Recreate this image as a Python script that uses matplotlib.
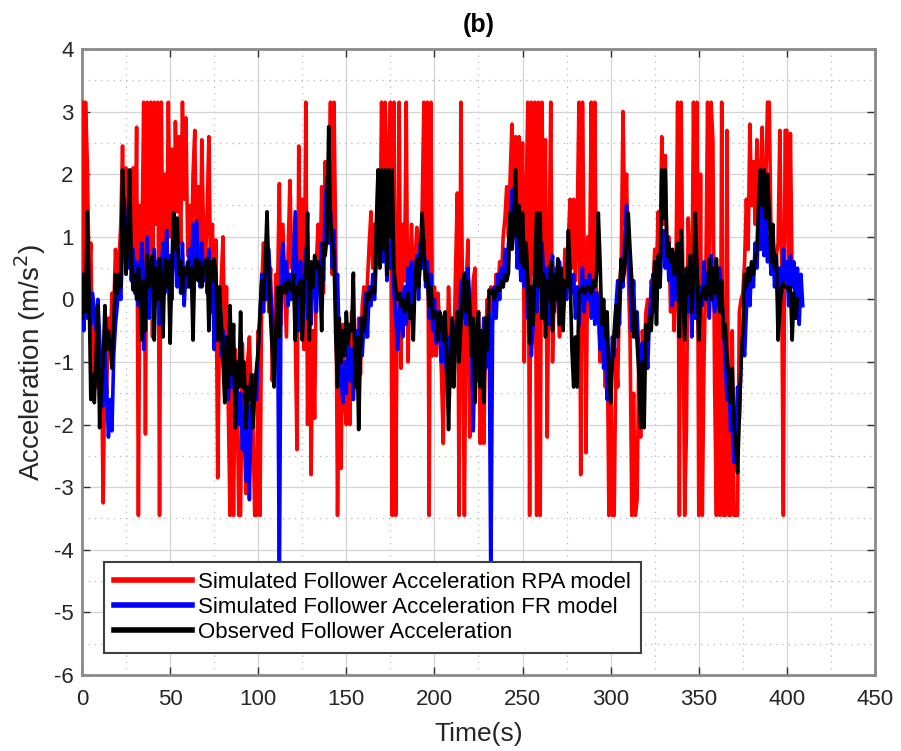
import numpy as np
import matplotlib
matplotlib.use("Agg")
import matplotlib.pyplot as plt
from matplotlib.ticker import MultipleLocator

plt.rcParams["font.family"] = ["Liberation Sans", "DejaVu Sans"]
plt.rcParams["axes.unicode_minus"] = False

# ---- data (1 sample per second) ----
red_rpa = [
    3.15, 0.2, 3.15, 2.2, 0.4, 0.9, -1.2, -0.3, -1.4, -0.6,
    -1.6, -0.8, -3.25, -1.0, -1.5, -0.3, -0.8, 0.1, -0.2, 0.8,
    0.3, 0.6, 1.2, 2.45, 0.8, 2.1, 1.0, 1.8, 0.6, 2.1,
    0.3, 2.75, -3.45, 1.5, 0.8, 3.15, -2.15, 3.15, 0.5, 3.15,
    -0.6, 3.15, 1.2, 3.15, -3.45, 3.15, 0.5, 2.0, 0.8, 3.15,
    1.0, 2.4, 0.6, 2.84, 1.4, 2.6, 0.9, 3.15, 1.6, 2.9,
    0.7, 1.5, 0.4, 2.0, 2.7, 0.6, 1.8, 0.3, 2.55, 1.0,
    0.5, 1.4, 2.6, 0.2, 1.2, -0.4, 0.95, -2.85, -0.5, 0.3,
    1.0, -0.8, 0.2, -1.7, -3.45, -1.2, -3.45, -0.8, -1.5, -3.45,
    -3.45, -0.7, -1.8, -3.1, -1.0, -0.6, -1.5, -2.0, -3.45, -3.45,
    -0.5, -3.45, 0.2, 0.9, 0.1, 0.6, -0.2, 0.5, -1.3, -0.6,
    0.4, 0.2, 1.85, -0.4, 1.2, 0.3, -0.6, 0.8, 1.9, 0.5,
    1.0, -0.5, -2.4, 2.45, 0.2, 1.6, -0.8, 3.15, -2.0, 0.4,
    -2.8, -0.5, -1.9, 0.6, 1.2, 0.3, 1.8, 0.1, 2.2, 0.9,
    1.5, 3.15, 0.4, 3.15, 0.8, -3.45, -1.0, -2.7, -0.4, -1.6,
    -2.0, -0.7, -2.0, -0.2, -1.4, -0.5, -1.0, -0.3, -1.2, -0.1,
    0.2, -0.6, 0.3, 0.9, 1.4, 0.5, 1.2, 0.7, 2.0, 0.6,
    3.15, 1.0, 3.15, 2.2, 0.5, 3.15, -3.45, 3.15, -3.45, 0.5,
    3.15, -1.1, 1.2, 0.3, 3.15, -1.0, 0.4, 1.2, 0.1, 0.6,
    1.15, 0.2, 0.8, 1.4, 3.15, 0.3, 3.15, -3.45, 3.15, -0.9,
    0.2, -0.9, 0.1, -0.5, -1.2, -2.3, -0.4, -1.0, 0.2, -0.6,
    -0.3, -1.0, 0.5, 1.7, -3.45, 3.15, -0.3, -3.45, 0.2, 0.95,
    -2.2, -0.5, 0.3, 0.5, -1.3, -0.2, -2.3, -1.0, -2.3, -0.6,
    0.0, -0.5, 0.2, 0.0, -0.3, 0.4, 0.1, 0.6, 0.3, 1.0,
    1.3, 1.8, 1.0, 2.0, 2.8, 1.5, 2.6, 0.8, 2.6, 0.9,
    2.5, -1.0, 1.6, 3.15, -3.45, 3.15, 0.4, 3.15, -3.45, 3.15,
    -3.45, 3.15, 0.5, 2.55, -2.2, 0.6, 3.15, -1.0, 0.2, 0.5,
    0.0, -0.6, 0.3, -0.3, 0.8, 0.2, 1.0, 1.6, 0.5, 1.6,
    0.3, 1.2, 3.15, -2.8, 3.15, 0.6, -2.45, 1.0, 0.4, 3.15,
    0.2, 3.15, -0.3, 0.1, -1.0, -0.2, -0.6, -1.4, -0.5, -3.45,
    -1.0, -3.45, -3.45, -0.8, -1.4, 0.2, 0.6, 3.0, 1.2, 2.0,
    0.4, -0.6, -3.45, -1.5, -3.45, -3.2, -0.8, -2.2, -0.5, -1.0,
    -0.2, 0.0, -0.5, 0.3, 0.1, 0.8, 0.5, 1.4, 0.6, 2.6,
    1.2, 2.3, 0.6, 1.0, -0.2, 0.5, -0.5, 0.3, 3.15, -3.45,
    3.15, 0.2, -3.45, -2.1, 1.3, 0.4, -0.3, 3.15, 0.5, 3.15,
    -3.45, 2.0, -3.45, -0.9, 0.4, 3.15, 0.2, 3.15, 2.55, -1.4,
    -3.45, 0.5, -3.45, 3.15, -3.45, -3.45, 2.7, -3.45, -3.45, -0.5,
    -3.45, -3.45, -3.45, -0.2, 0.0, 0.1, 0.6, 1.6, 0.8, 2.8,
    1.5, 2.2, 1.2, 2.55, 0.8, 2.0, 2.75, 0.9, 1.8, 3.15,
    3.15, 1.0, 0.6, 0.5, 0.7, 0.9, 2.7, 0.5, -3.45, 2.7,
    2.7, 0.6, 2.65, 0.3,
]

blue_fr = [
    0.4, -0.5, 0.3, -0.3, 0.2, -0.4, 0.1, -0.2, -0.5, 0.0,
    -0.6, -1.2, -1.7, -0.8, -1.4, -2.2, -1.6, -2.1, -0.9, -0.4,
    -0.1, 0.3, 0.0, 0.8, 1.6, 0.9, 0.5, 1.2, 0.3, 0.8,
    0.1, 0.6, -0.1, 0.5, 0.9, -0.8, 0.2, 1.0, -0.3, 0.6,
    0.3, 0.8, 0.2, 0.6, -0.4, 0.5, 0.9, 0.1, 1.1, 0.3,
    0.7, 0.0, 0.8, 1.2, 0.2, 0.6, 0.1, 0.9, -0.1, 0.5,
    0.2, 0.8, 0.3, 1.2, 0.4, 1.25, 0.6, 0.2, 0.9, 0.3,
    0.6, 0.1, 0.8, -0.2, 0.5, -0.8, 0.3, -0.6, -0.1, -0.9,
    -0.5, -1.1, -0.7, -1.6, -1.0, -1.4, -0.8, -1.7, -1.2, -2.0,
    -1.5, -2.4, -1.8, -2.9, -1.4, -3.2, -1.7, -2.0, -1.2, -1.6,
    -0.8, -0.3, 0.4, -0.2, 0.5, 0.0, 0.8, 0.2, -0.4, -1.0,
    -0.6, -0.2, -4.6, 0.5, 0.9, 0.2, 0.6, -0.1, 0.4, 0.0,
    0.7, 1.4, 0.3, -0.5, 0.6, -0.6, 0.2, 0.8, -0.3, 0.5,
    -0.4, 0.3, 0.6, -0.2, 0.5, 0.2, 0.9, 0.3, 1.5, 1.95,
    0.9, 1.4, 0.5, 1.1, -0.1, 0.4, -0.8, -1.2, -1.65, -1.0,
    -1.5, -0.6, -1.3, -0.8, -1.6, -1.0, -0.5, -1.1, -0.3, -0.9,
    -0.4, 0.1, -0.6, 0.2, -0.1, 0.4, 0.0, 0.6, 1.4, 0.8,
    1.2, 0.6, 1.3, 0.3, 0.9, 0.5, 1.1, 0.1, -0.2, -0.8,
    -0.3, 0.1, -0.6, 0.2, -0.4, 0.5, -0.2, 0.6, -0.1, 0.3,
    0.7, 0.0, 0.9, 0.5, 0.95, 0.2, 0.6, -0.3, 0.4, -0.5,
    0.0, -0.7, -0.2, -0.5, -1.0, -0.4, -0.9, -1.2, -0.6, -1.4,
    -0.8, -1.2, -0.5, -0.2, -0.9, 0.3, -0.3, 0.2, -0.4, 0.5,
    0.0, -0.6, -2.1, -0.9, -0.4, -1.3, -0.6, -1.0, -0.3, -1.1,
    -0.5, -0.2, -4.6, -0.4, 0.2, -0.3, 0.4, 0.0, 0.5, 0.2,
    0.8, 0.4, 0.9, 1.2, 1.75, 1.0, 1.4, 0.5, 1.1, 0.3,
    0.8, 0.2, 0.6, -0.3, 0.1, -0.9, -0.4, 0.3, -0.2, 0.6,
    0.2, 0.9, 0.4, -0.1, 0.5, -0.4, 0.3, 0.7, -0.2, 0.4,
    0.1, 0.6, 0.2, -0.2, 0.3, 0.0, 0.5, 0.3, 0.1, 0.4,
    -0.3, 0.2, -0.4, 0.1, 0.5, -0.2, 0.3, 0.0, 0.4, -0.3,
    0.2, -0.4, 0.1, -0.2, -0.8, -0.3, -1.1, -0.6, -1.6, -1.0,
    -1.4, -0.6, -0.9, -0.1, 0.3, -0.4, 0.6, 0.2, 1.0, 1.5,
    0.8, 0.2, -0.5, 0.3, -0.6, -0.2, -0.9, -1.4, -0.7, -1.2,
    -0.6, -1.1, -0.3, 0.1, 0.4, -0.2, 0.3, 0.6, 0.2, 0.9,
    1.1, 0.5, 1.0, 0.3, 0.7, -0.1, 0.4, 0.0, 0.8, -0.3,
    0.5, 0.1, -0.4, 0.3, -0.2, 0.6, -0.6, 0.2, -0.3, 0.5,
    -0.4, 0.2, -0.1, 0.6, 0.0, 0.4, -0.3, 0.7, 0.1, -0.2,
    0.3, -0.1, 0.5, 0.0, -0.4, -1.0, -1.6, -1.2, -2.1, -1.8,
    -2.6, -2.2, -1.4, -1.9, -1.0, -0.6, -0.9, -0.2, 0.4, -0.1,
    0.6, 0.2, 0.9, 0.5, 1.2, 0.8, 1.6, 0.7, 1.3, 0.6,
    1.0, 0.4, 0.9, 0.2, 0.7, -0.2, 0.5, 0.1, 0.8, 0.3,
    0.6, -0.1, 0.7, 0.2, 0.6, -0.3, 0.5, -0.4, 0.4, -0.1,
]

black_obs = [
    -0.3, 0.4, -0.2, 1.4, 0.2, -1.6, -1.2, -1.65, -0.9, -0.1,
    -2.05, -1.4, -1.0, -0.1, -0.8, -0.5, -0.75, -1.1, -0.4, 0.4,
    0.1, 0.4, 0.2, 2.07, 1.2, 0.4, 1.0, 2.07, 0.6, 0.15,
    0.4, 0.0, 0.5, 0.15, -0.65, 0.3, -0.5, 0.7, 0.2, 0.6,
    0.7, -0.65, 0.5, 0.0, 0.65, 0.3, -0.6, 0.65, 0.2, 0.6,
    -0.7, 0.5, 1.38, 0.8, 1.3, 0.4, 0.6, 0.1, 0.5, 0.4,
    0.6, 0.2, 0.5, -0.65, 0.6, 0.65, 0.3, 0.6, 0.2, 0.5,
    0.6, 0.65, -0.5, 0.6, 0.3, 0.65, 0.4, -0.65, 0.2, -0.3,
    -1.0, -1.65, -0.6, -1.4, -0.1, -1.2, -0.4, -2.05, -1.0, -1.4,
    -0.2, -1.4, -1.0, -2.05, -1.4, -1.6, -1.2, -2.05, -1.5, -1.1,
    -0.8, -0.2, 0.3, 0.0, 0.6, 1.4, 0.4, -0.3, -0.8, -1.4,
    -0.5, 0.2, -0.6, 0.2, 0.1, 0.25, 0.1, 0.3, 0.2, 0.15,
    0.4, -0.65, 0.2, 0.1, 0.3, -0.65, 0.3, 0.4, 1.38, -0.65,
    0.6, 0.2, 0.7, 0.5, 0.6, 0.4, -0.5, 0.9, 0.7, 1.0,
    2.76, 1.3, 0.9, 0.7, -0.6, -1.4, -0.3, -1.0, -0.5, -0.9,
    -0.2, -0.7, -0.4, -0.5, 0.42, -1.4, -0.6, -2.08, -0.8, -0.3,
    -0.5, -0.2, 0.1, 0.0, 0.1, 0.2, 0.1, 1.2, 2.07, 0.5,
    2.07, 0.8, 2.07, 0.4, 2.07, 1.0, 2.07, 0.5, 0.2, 0.0,
    0.1, -0.1, 0.0, -0.2, -0.1, 0.1, -0.3, -0.1, -0.65, 0.3,
    0.65, 0.2, 0.6, 1.38, 0.8, 0.3, 0.4, -0.1, 0.2, -0.3,
    -0.2, -0.25, -0.65, -0.2, -0.3, -0.65, -0.2, -1.0, -2.08, -0.9,
    -0.3, -1.4, -0.6, -0.2, -1.0, -0.4, 0.1, 0.42, -0.2, 0.3,
    -0.2, -0.9, -0.3, -1.65, -0.6, -0.2, -1.4, -0.5, -1.65, -0.3,
    -0.8, 0.15, 0.1, 0.15, 0.0, 0.1, 0.2, 0.15, 0.3, 0.2,
    0.4, 0.3, 0.42, 1.38, 0.8, 1.2, 2.07, 1.0, 1.5, 0.6,
    1.38, 0.5, 0.9, 0.3, -0.7, 0.2, -0.4, 0.6, 1.38, 0.2,
    1.38, -0.3, 0.4, -0.6, 0.3, 0.0, 0.6, -0.5, 0.4, 0.0,
    0.65, -0.4, 0.5, -0.5, 0.3, 0.2, 1.1, 0.4, -0.8, -1.4,
    -0.6, -1.4, 0.1, 0.15, 0.2, 0.1, 0.15, 0.2, 0.15, 0.1,
    0.3, 0.2, 0.4, 1.38, 0.6, -0.4, 0.0, -0.6, -0.2, -1.2,
    -1.65, -1.0, -0.5, -0.1, -0.6, 0.0, 0.65, 0.3, 0.5, 1.0,
    1.38, 0.8, 0.3, -0.6, -0.2, -0.7, -1.2, -2.05, -1.0, -2.05,
    -0.4, -0.65, -0.3, -0.5, 0.0, 0.6, -0.4, 0.7, 0.2, 2.07,
    1.3, 2.07, 0.7, 0.9, 0.6, 0.8, 0.4, 0.7, 0.9, -0.6,
    1.1, 0.2, -0.65, 0.5, 0.1, 0.7, -0.2, 0.3, 1.38, 0.5,
    -0.65, 0.0, 0.1, 0.2, 0.0, 0.1, 0.65, 0.0, 0.5, 0.1,
    0.65, 0.1, -0.2, 0.3, -0.6, -0.4, -0.9, -1.2, -1.65, -1.1,
    -2.0, -2.3, -2.77, -1.9, -1.0, -0.5, 0.4, 0.2, 0.5, 0.3,
    0.6, 0.4, 0.65, 0.8, 1.6, 2.07, 1.5, 2.07, 1.3, 2.0,
    1.4, 0.6, 1.2, 0.5, 0.7, -0.65, -0.2, 0.2, 0.25, 0.2,
    0.2, 0.15, 0.2, -0.65, 0.1, -0.3, 0.0,
]

labels = [
    "Simulated Follower Acceleration RPA model",
    "Simulated Follower Acceleration FR model",
    "Observed Follower Acceleration",
]
title = "(b)"
xlabel = "Time(s)"
ylabel = "Acceleration (m/s$^2$)"

t_red = np.arange(len(red_rpa))
t_blue = np.arange(len(blue_fr))
t_black = np.arange(len(black_obs))

fig = plt.figure(figsize=(9.01, 7.51), dpi=100)
ax = fig.add_axes([82 / 901, 76 / 751, 793 / 901, 626 / 751])

lw = 2.6
ax.plot(t_red, red_rpa, color="#ff0000", lw=lw, label=labels[0], zorder=3)
ax.plot(t_blue, blue_fr, color="#0000ff", lw=lw, label=labels[1], zorder=4)
ax.plot(t_black, black_obs, color="#000000", lw=lw, label=labels[2], zorder=5)

ax.set_xlim(0, 450)
ax.set_ylim(-6, 4)
ax.xaxis.set_major_locator(MultipleLocator(50))
ax.yaxis.set_major_locator(MultipleLocator(1))
ax.xaxis.set_minor_locator(MultipleLocator(25))
ax.yaxis.set_minor_locator(MultipleLocator(0.5))
ax.grid(True, which="major", color="#d4d4d4", lw=0.9, ls="-", zorder=0)
ax.grid(True, which="minor", color="#b8b8b8", lw=0.9, ls=(0, (1, 4)), zorder=0)
ax.set_axisbelow(True)

for s in ax.spines.values():
    s.set_color("#8a8a8a")
    s.set_linewidth(2.0)
ax.tick_params(which="major", direction="in", length=6, width=1.0, color="#303030",
               top=True, right=True, labelsize=16, labelcolor="#262626")
ax.tick_params(which="minor", length=0, top=True, right=True)
ax.tick_params(axis="x", pad=10)
ax.tick_params(axis="y", pad=6)

ax.set_xlabel(xlabel, fontsize=19, color="#262626", labelpad=9)
ax.set_ylabel(ylabel, fontsize=20, color="#262626")
ax.yaxis.set_label_coords(-0.043, 0.5)
ax.set_title(title, fontsize=18, fontweight="bold", color="#000000", pad=12)

leg = ax.legend(loc="lower left", bbox_to_anchor=(0.0277, 0.035), borderaxespad=0,
                fontsize=16, frameon=True, fancybox=False, framealpha=1.0,
                edgecolor="#404040", handlelength=3.5, handletextpad=0.3,
                labelspacing=0.18, borderpad=0.45)
leg.get_frame().set_linewidth(1.5)
leg.set_zorder(10)
for h in leg.get_lines():
    h.set_linewidth(4)

fig.savefig("out.png", dpi=100)
